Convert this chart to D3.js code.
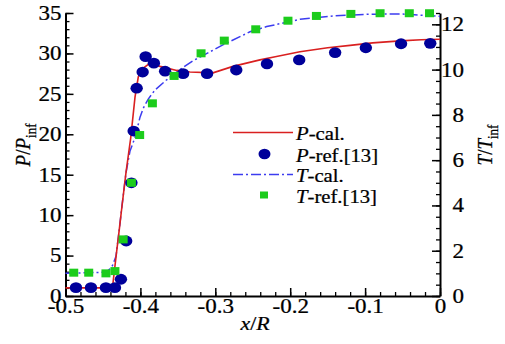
<!DOCTYPE html>
<html><head><meta charset="utf-8">
<script src="https://cdn.jsdelivr.net/npm/d3@7"></script>
<style>body{margin:0;background:#fff}svg{display:block}svg text{font-family:"Liberation Serif","Tinos","Times New Roman","DejaVu Serif",serif !important;fill:#000;stroke:#000;stroke-width:0.25px}</style>
</head><body><svg id="c" width="505" height="344"></svg>
<script>
// ---- data ----
const xTicks = [-0.5, -0.4, -0.3, -0.2, -0.1, 0];
const xTickLabels = ["-0.5", "-0.4", "-0.3", "-0.2", "-0.1", "0"];
const pTicks = [0, 5, 10, 15, 20, 25, 30, 35];
const tTicks = [0, 2, 4, 6, 8, 10, 12];

const pCalX = [-0.5, -0.4373, -0.4366, -0.4326, -0.4286, -0.4246, -0.4192, -0.413, -0.4072, -0.4028, -0.3961, -0.3872, -0.3738, -0.3515, -0.3338, -0.3031, -0.2764, -0.2404, -0.22, -0.187, -0.15, -0.12, -0.09, -0.053, -0.025, 0];
const pCalY = [1.0, 1.0, 1.6, 4.8, 7.9, 11.1, 15.3, 19.5, 24.6, 27.1, 28.2, 28.8, 28.4, 27.9, 27.7, 27.6, 28.4, 29.2, 29.6, 30.2, 30.7, 31.0, 31.3, 31.55, 31.7, 31.75];

const pRefX = [-0.486, -0.466, -0.446, -0.434, -0.426, -0.419, -0.412, -0.409, -0.405, -0.397, -0.393, -0.382, -0.367, -0.343, -0.311, -0.272, -0.231, -0.188, -0.140, -0.099, -0.052, -0.013];
const pRefY = [1.03, 1.03, 1.03, 1.03, 2.07, 6.8, 14.0, 20.4, 25.7, 27.7, 29.6, 28.8, 27.8, 27.5, 27.5, 27.95, 28.7, 29.2, 30.1, 30.7, 31.2, 31.25];

const tCalX = [-0.5, -0.4459, -0.4406, -0.4372, -0.4326, -0.4286, -0.4246, -0.4192, -0.4139, -0.4072, -0.4005, -0.3961, -0.3895, -0.3805, -0.3649, -0.3471, -0.3294, -0.3204, -0.2893, -0.2537, -0.2314, -0.1869, -0.1425, -0.0979, -0.0534, -0.0134, 0];
const tCalY = [1.0, 1.05, 1.2, 1.35, 1.75, 2.83, 3.98, 5.45, 6.4, 7.0, 7.9, 8.3, 8.7, 9.1, 9.55, 10.0, 10.4, 10.55, 11.1, 11.67, 11.9, 12.22, 12.37, 12.44, 12.46, 12.38, 12.35];

const tRefX = [-0.489, -0.469, -0.446, -0.434, -0.423, -0.412, -0.401, -0.384, -0.355, -0.319, -0.288, -0.246, -0.203, -0.165, -0.119, -0.080, -0.041, -0.014];
const tRefY = [1.03, 1.03, 1.0, 1.1, 2.5, 5.0, 7.11, 8.51, 9.72, 10.72, 11.28, 11.78, 12.16, 12.37, 12.46, 12.49, 12.49, 12.49];

const legendLabels = [["P", "-cal."], ["P", "-ref.[13]"], ["T", "-cal."], ["T", "-ref.[13]"]];

// ---- styles ----
const RED = "#d92020", NAVY = "#00009a", BLUE = "#3c3cf0", GREEN = "#1ccc1c";
const SX = 1.15;
const FONT = "Liberation Serif, Tinos, Times New Roman, DejaVu Serif, serif";

const svg = d3.select("#c");
const x = d3.scaleLinear().domain([-0.5, 0]).range([65.5, 440]);
const yP = d3.scaleLinear().domain([0, 35]).range([296, 13]);
const yT = d3.scaleLinear().domain([0, 12.5]).range([296, 13]);

function styleAxis(g, w) {
  g.attr("font-family", FONT);
  g.selectAll("line").attr("stroke", "#000").attr("stroke-width", 1.5);
  g.select(".domain").attr("stroke", "#000").attr("stroke-width", w);
}

// minor ticks
const xMinor = d3.range(-0.5, 0.0001, 0.02).map(v => +v.toFixed(2));
const pMinor = d3.range(0, 35.01, 1);
const tMinor = d3.range(0, 12.51, 0.5);

svg.append("g").attr("transform", "translate(0,296)")
  .call(d3.axisBottom(x).tickValues(xMinor).tickSizeInner(-4).tickSizeOuter(0).tickFormat(""))
  .call(g => { g.select(".domain").remove(); g.selectAll("line").attr("stroke", "#000").attr("stroke-width", 1.3); });
svg.append("g").attr("transform", "translate(65.5,0)")
  .call(d3.axisLeft(yP).tickValues(pMinor).tickSizeInner(-4).tickSizeOuter(0).tickFormat(""))
  .call(g => { g.select(".domain").remove(); g.selectAll("line").attr("stroke", "#000").attr("stroke-width", 1.3); });
svg.append("g").attr("transform", "translate(440,0)")
  .call(d3.axisRight(yT).tickValues(tMinor).tickSizeInner(-4).tickSizeOuter(0).tickFormat(""))
  .call(g => { g.select(".domain").remove(); g.selectAll("line").attr("stroke", "#000").attr("stroke-width", 1.3); });

// major axes
const gx = svg.append("g").attr("transform", "translate(0,296)")
  .call(d3.axisBottom(x).tickValues(xTicks).tickSizeInner(-8).tickSizeOuter(0).tickPadding(3)
    .tickFormat((d, i) => xTickLabels[i]));
styleAxis(gx, 2);
gx.selectAll("text").attr("font-size", 20).attr("transform", `scale(${SX},1)`);

const gl = svg.append("g").attr("transform", "translate(65.5,0)")
  .call(d3.axisLeft(yP).tickValues(pTicks).tickSizeInner(-8).tickSizeOuter(0).tickPadding(3));
styleAxis(gl, 2);
gl.selectAll("text").attr("font-size", 20).attr("x", -4 / SX).attr("transform", `scale(${SX},1)`);

const gr = svg.append("g").attr("transform", "translate(440,0)")
  .call(d3.axisRight(yT).tickValues(tTicks).tickSizeInner(-8).tickSizeOuter(0).tickPadding(3));
styleAxis(gr, 2);
gr.selectAll("text").attr("font-size", 20).attr("text-anchor", "end").attr("x", 24 / SX)
  .attr("transform", `scale(${SX},1)`);

// lines
const lineP = d3.line().x(d => x(d[0])).y(d => yP(d[1]));
const lineT = d3.line().x(d => x(d[0])).y(d => yT(d[1]));
svg.append("path").datum(tCalX.map((v, i) => [v, tCalY[i]])).attr("d", lineT)
  .attr("fill", "none").attr("stroke", BLUE).attr("stroke-width", 1.5).attr("stroke-dasharray", "10,3,2,3");
svg.append("path").datum(pCalX.map((v, i) => [v, pCalY[i]])).attr("d", lineP)
  .attr("fill", "none").attr("stroke", RED).attr("stroke-width", 1.6);

// markers
svg.append("g").selectAll("ellipse").data(pRefX.map((v, i) => [v, pRefY[i]])).join("ellipse")
  .attr("cx", d => x(d[0])).attr("cy", d => yP(d[1])).attr("rx", 6.2).attr("ry", 5.4).attr("fill", NAVY);
svg.append("g").selectAll("rect").data(tRefX.map((v, i) => [v, tRefY[i]])).join("rect")
  .attr("x", d => x(d[0]) - 4.5).attr("y", d => yT(d[1]) - 4).attr("width", 9).attr("height", 8).attr("fill", GREEN);

// legend
const lg = svg.append("g").attr("font-family", FONT);
const rowsY = [132.5, 154, 174.5, 195];
lg.append("line").attr("x1", 233).attr("x2", 293).attr("y1", rowsY[0]).attr("y2", rowsY[0]).attr("stroke", RED).attr("stroke-width", 1.6);
lg.append("ellipse").attr("cx", 264.5).attr("cy", rowsY[1]).attr("rx", 6).attr("ry", 5.2).attr("fill", NAVY);
lg.append("line").attr("x1", 233).attr("x2", 293).attr("y1", rowsY[2]).attr("y2", rowsY[2]).attr("stroke", BLUE).attr("stroke-width", 1.5).attr("stroke-dasharray", "10,3,2,3");
lg.append("rect").attr("x", 260).attr("y", rowsY[3] - 3.5).attr("width", 8).attr("height", 7).attr("fill", GREEN);
legendLabels.forEach((lab, i) => {
  const t = lg.append("text").attr("transform", `translate(296,${rowsY[i] + 7.5}) scale(${SX},1)`).attr("font-size", 18);
  t.append("tspan").attr("font-style", "italic").text(lab[0]);
  t.append("tspan").text(lab[1]);
});

// axis titles
const xt = svg.append("text").attr("font-family", FONT).attr("transform", `translate(255,330) scale(${SX},1)`).attr("text-anchor", "middle").attr("font-size", 19);
xt.append("tspan").attr("font-style", "italic").text("x");
xt.append("tspan").text("/");
xt.append("tspan").attr("font-style", "italic").text("R");

function yTitle(px, cy, sym) {
  const t = svg.append("text").attr("font-family", FONT).attr("transform", `translate(${px},${cy}) scale(${SX},1) rotate(-90)`).attr("text-anchor", "middle").attr("font-size", 19);
  t.append("tspan").attr("font-style", "italic").text(sym);
  t.append("tspan").text("/");
  t.append("tspan").attr("font-style", "italic").text(sym);
  t.append("tspan").attr("font-size", 13).attr("dy", 5).text("inf");
}
yTitle(30, 145, "P");
yTitle(492, 145, "T");
</script></body></html>
